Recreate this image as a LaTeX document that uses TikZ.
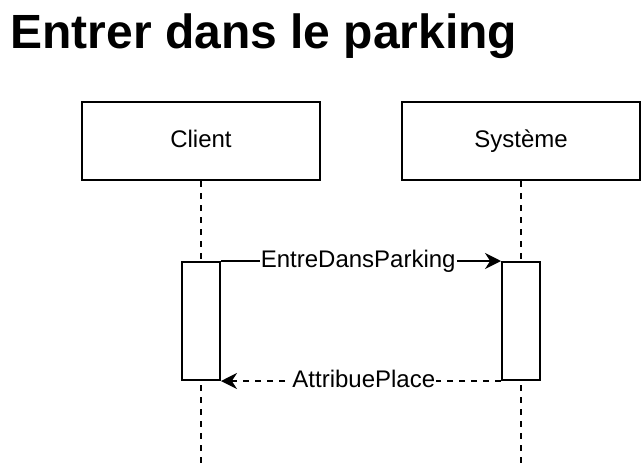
\documentclass[tikz,border=0pt]{standalone}
\usepackage{fontspec}
\setmainfont{Liberation Sans}
\usetikzlibrary{arrows.meta}

\begin{document}
\begin{tikzpicture}[x=1pt, y=-1pt]
        \tikzstyle{acteur}=[draw=black, line width=2pt, minimum width=238pt, minimum height=78pt, inner sep=0pt, text height=17pt, text depth=5pt, font=\fontsize{24}{28}\selectfont]
        \tikzstyle{activation}=[draw=black, fill=white, line width=2pt, minimum width=38pt, minimum height=118pt, inner sep=0pt]
        \tikzstyle{vie}=[line width=2pt, dash pattern=on 6pt off 6pt]
        \tikzstyle{message}=[fill=white, inner sep=1pt, text height=17pt, text depth=5pt, font=\fontsize{24}{28}\selectfont]

        \useasboundingbox (0,0) rectangle (642,466);

        \node (titre) at (7,48)[anchor=base west, font=\bfseries\fontsize{48}{52}\selectfont]{Entrer dans le parking};

        \node (client) at (201,141)[acteur]{Client};
        \node (systeme) at (521,141)[acteur]{Système};

        \coordinate (finC) at (201,466);
        \coordinate (finS) at (521,466);

        \draw[vie] (client.south) -- (finC);
        \draw[vie] (systeme.south) -- (finS);

        \node (actC) at (201,321)[activation]{};
        \node (actS) at (521,321)[activation]{};

        \draw[line width=2pt, -{Stealth[length=16pt, width=16pt]}] (actC.north east) -- (actS.north west)
                node[message, pos=0.49]{EntreDansParking};
        \draw[line width=2pt, dash pattern=on 6pt off 6pt, -{Stealth[length=16pt, width=16pt]}] (actS.south west) -- (actC.south east)
                node[message, pos=0.49]{AttribuePlace};
      \end{tikzpicture}
\end{document}
